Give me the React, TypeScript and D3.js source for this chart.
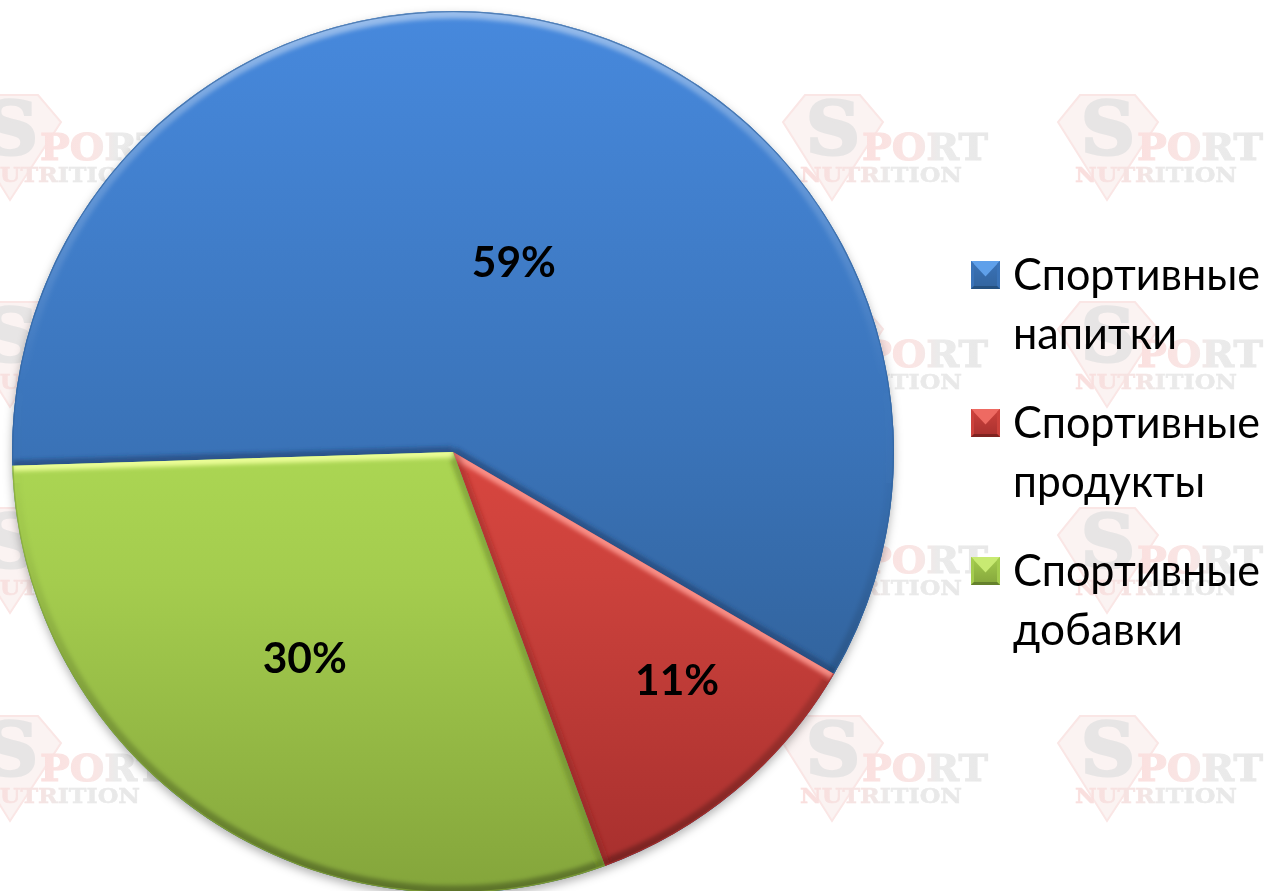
import React from "react";
import * as d3 from "d3";

const categories = ["Спортивные напитки", "Спортивные продукты", "Спортивные добавки"];
const values = [58.9, 11, 30.1];
const valueLabels = ["59%", "11%", "30%"];
const topColors = ["#4789dd", "#d8463f", "#abd653"];
const midColors = ["#3a73b8", "#cc423c", "#a4cc4e"];
const bottomColors = ["#32649e", "#a8302e", "#84a53b"];
const swatchTop = ["#5fa0ea", "#ee6a62", "#c8ea72"];
const swatchBottom = ["#24507f", "#7e2320", "#65812c"];
const startEdgeColors = ["#1c3d66", "#ff9a92", "#5f7a22"];
const endEdgeColors = ["#1c3d66", "#7e2320", "#eeff9a"];
const startEdgeOpacity = [0.55, 0.85, 0.45];
const endEdgeOpacity = [0.55, 0.35, 0.95];
const logoColumns = [-40, 782, 1057];
const logoRows = [95, 302, 508, 716];

const W = 1266, H = 891;
const cx = 453, cy = 452, R = 441;
const startDeg = -91.8;
const toRad = (d: number) => (d * Math.PI) / 180;

function Logo({ x, y }: { x: number; y: number }) {
  const serif = { fontFamily: "'DejaVu Serif'", fontWeight: "bold" as const };
  return (
    <g transform={`translate(${x},${y})`}>
      <polygon points="23,0 78,0 101,27 50,105 1,27" fill="#fbf3f2" stroke="#fae6e5" strokeWidth={2} />
      <text x={24} y={59} {...serif} fontSize={72} fill="#e7e5e5" stroke="#e7e5e5" strokeWidth={3} textLength={54} lengthAdjust="spacingAndGlyphs">S</text>
      <text x={80} y={65} {...serif} fontSize={37} fill="url(#logoPort)" stroke="url(#logoPort)" strokeWidth={1} textLength={126} lengthAdjust="spacingAndGlyphs">PORT</text>
      <text x={18} y={87} {...serif} fontSize={20} fill="url(#logoNut)" stroke="url(#logoNut)" strokeWidth={0.5} textLength={162} lengthAdjust="spacingAndGlyphs">NUTRITION</text>
    </g>
  );
}

export default function App() {
  const pie = d3.pie<number>().sort(null).startAngle(toRad(startDeg)).endAngle(toRad(startDeg + 360));
  const arcs = pie(values);
  const arc = d3.arc<d3.PieArcDatum<number>>().innerRadius(0).outerRadius(R);
  const rim = d3.arc<d3.PieArcDatum<number>>().innerRadius(R).outerRadius(R);
  const spoke = (a: number) => {
    const p = d3.path();
    p.moveTo(0, 0);
    p.lineTo(R * Math.sin(a), -R * Math.cos(a));
    return p.toString();
  };
  const labelRadius = [200, 320, 254];
  const labelNudge = [3.5, -4.5, 1.7];
  const legendTop = [261, 409, 557];
  const lineGap = 59;
  const firstLineWidth = 247;
  const secondLineWidths = [164, 192, 170];

  return (
    <svg width={W} height={H} viewBox={`0 0 ${W} ${H}`} style={{ position: "absolute", left: 0, top: 0, display: "block", background: "#fff" }}>
      <defs>
        <linearGradient id="logoPort" x1="0" y1="0" x2="1" y2="0">
          <stop offset="0" stopColor="#fbe0df" />
          <stop offset="0.45" stopColor="#f9e6e5" />
          <stop offset="0.6" stopColor="#ebebeb" />
          <stop offset="1" stopColor="#e8e8e8" />
        </linearGradient>
        <linearGradient id="logoNut" x1="0" y1="0" x2="1" y2="0">
          <stop offset="0" stopColor="#fadedd" />
          <stop offset="0.4" stopColor="#f5e4e3" />
          <stop offset="0.55" stopColor="#eaeaea" />
          <stop offset="1" stopColor="#e8e8e8" />
        </linearGradient>
        <filter id="logoBlur" x="-5%" y="-5%" width="110%" height="110%">
          <feGaussianBlur stdDeviation="0.7" />
        </filter>
        <filter id="pieShadow" x="-5%" y="-5%" width="110%" height="110%">
          <feDropShadow dx="0" dy="4" stdDeviation="5" floodColor="#000" floodOpacity="0.3" />
        </filter>
        <filter id="bevelBlur" filterUnits="userSpaceOnUse" x={-R - 20} y={-R - 20} width={2 * R + 40} height={2 * R + 40}>
          <feGaussianBlur stdDeviation="2" />
        </filter>
        <linearGradient id="rimGrad" gradientUnits="userSpaceOnUse" x1="0" y1={-R} x2="0" y2={R}>
          <stop offset="0" stopColor="#fff" stopOpacity="0.45" />
          <stop offset="0.14" stopColor="#fff" stopOpacity="0.22" />
          <stop offset="0.42" stopColor="#fff" stopOpacity="0" />
          <stop offset="0.6" stopColor="#000" stopOpacity="0.04" />
          <stop offset="1" stopColor="#000" stopOpacity="0.3" />
        </linearGradient>
        {arcs.map((a, i) => (
          <React.Fragment key={i}>
            <linearGradient id={`fill${i}`} x1="0" y1="0" x2="0" y2="1">
              <stop offset="0" stopColor={topColors[i]} />
              <stop offset={i === 0 ? "0.65" : "0.3"} stopColor={midColors[i]} />
              <stop offset="1" stopColor={bottomColors[i]} />
            </linearGradient>
            <clipPath id={`clip${i}`}>
              <path d={arc(a) as string} />
            </clipPath>
            <linearGradient id={`sw${i}`} x1="0" y1="0" x2="0" y2="1">
              <stop offset="0" stopColor={midColors[i]} />
              <stop offset="1" stopColor={bottomColors[i]} />
            </linearGradient>
          </React.Fragment>
        ))}
      </defs>

      <g filter="url(#logoBlur)">
        {logoRows.map((ry) => logoColumns.map((cxx) => <Logo key={`${cxx}-${ry}`} x={cxx} y={ry} />))}
      </g>

      <g transform={`translate(${cx},${cy})`}>
        <circle r={R} fill="#3a6ea8" filter="url(#pieShadow)" />
        {arcs.map((a, i) => (
          <g key={i}>
            <path d={arc(a) as string} fill={`url(#fill${i})`} />
            <g clipPath={`url(#clip${i})`}>
              <g filter="url(#bevelBlur)" fill="none">
                <path d={rim(a) as string} stroke="url(#rimGrad)" strokeWidth={15} />
                <path d={spoke(a.startAngle)} stroke={startEdgeColors[i]} strokeOpacity={startEdgeOpacity[i]} strokeWidth={11} />
                <path d={spoke(a.endAngle)} stroke={endEdgeColors[i]} strokeOpacity={endEdgeOpacity[i]} strokeWidth={11} />
              </g>
              <path d={rim(a) as string} fill="none" stroke={bottomColors[i]} strokeOpacity={0.7} strokeWidth={2.5} />
            </g>
          </g>
        ))}
        {arcs.map((a, i) => {
          const mid = (a.startAngle + a.endAngle) / 2 + toRad(labelNudge[i]);
          return (
            <text
              key={i}
              x={labelRadius[i] * Math.sin(mid)}
              y={-labelRadius[i] * Math.cos(mid) + 15}
              textAnchor="middle"
              fontFamily="Lato, 'Open Sans', sans-serif"
              fontWeight="bold"
              fontSize={42.5}
              fill="#000"
            >
              {valueLabels[i]}
            </text>
          );
        })}
      </g>

      {categories.map((c, i) => {
        const [l1, l2] = c.split(" ");
        const y = legendTop[i];
        const x = 971, s = 29, h = 28, b = 3;
        return (
          <g key={c}>
            <rect x={x} y={y} width={s} height={h} fill={`url(#sw${i})`} />
            <polygon points={`${x},${y} ${x + s},${y} ${x + s / 2},${y + h * 0.55}`} fill={swatchTop[i]} />
            <polygon points={`${x},${y} ${x + b},${y + b} ${x + b},${y + h - b} ${x},${y + h}`} fill={midColors[i]} />
            <polygon points={`${x + s},${y} ${x + s - b},${y + b} ${x + s - b},${y + h - b} ${x + s},${y + h}`} fill={midColors[i]} />
            <polygon points={`${x},${y + h} ${x + b},${y + h - b} ${x + s - b},${y + h - b} ${x + s},${y + h}`} fill={swatchBottom[i]} />
            <text x={1013} y={y + 28.5} fontFamily="Lato, 'Open Sans', sans-serif" fontSize={44} fill="#000" textLength={firstLineWidth} lengthAdjust="spacingAndGlyphs">{l1}</text>
            <text x={1013} y={y + 28.5 + lineGap} fontFamily="Lato, 'Open Sans', sans-serif" fontSize={44} fill="#000" textLength={secondLineWidths[i]} lengthAdjust="spacingAndGlyphs">{l2}</text>
          </g>
        );
      })}
    </svg>
  );
}
